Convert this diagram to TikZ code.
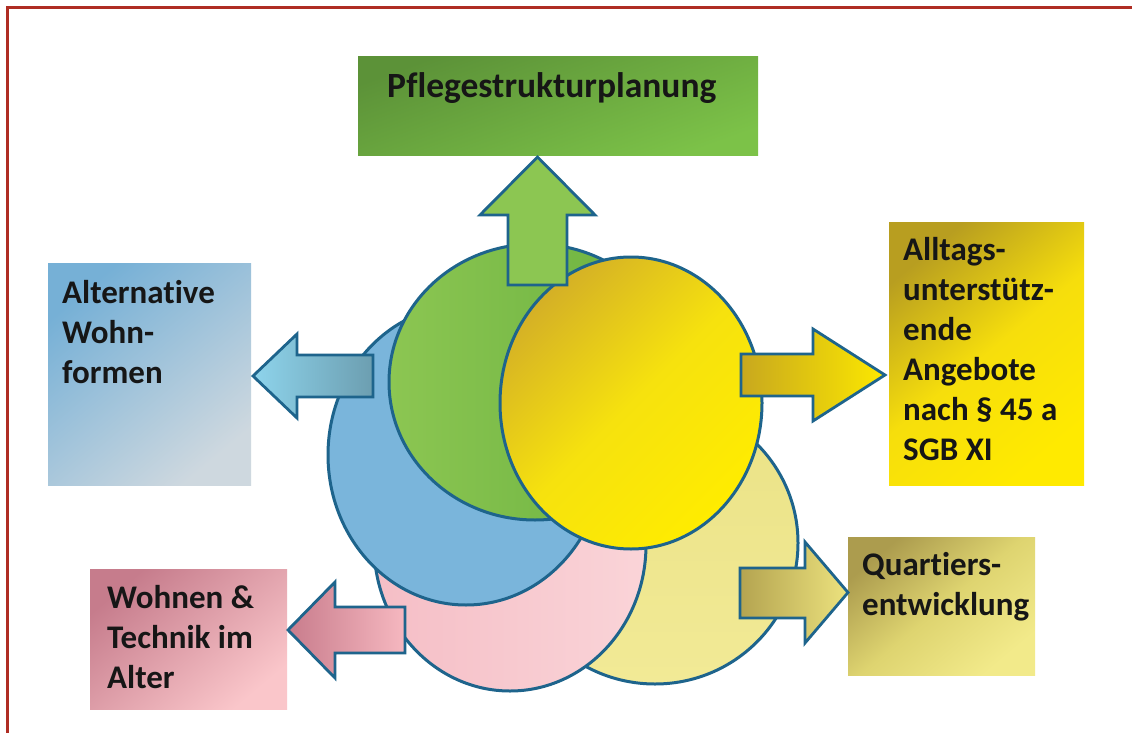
\documentclass[tikz,border=0pt]{standalone}
\usepackage{fontspec}
\setmainfont{Carlito}[Ligatures={NoCommon}]
\usetikzlibrary{shapes.geometric}
\definecolor{edgec}{RGB}{30,100,140}
\definecolor{framec}{RGB}{175,45,35}
\definecolor{txtc}{RGB}{22,22,22}
\begin{document}
\begin{tikzpicture}[x=1pt,y=-1pt,
  outl/.style={draw=edgec, line width=2.8pt, line join=miter},
  boxsty/.style={draw=none, inner sep=0pt, outer sep=0pt, anchor=north west},
  circsty/.style={ellipse, draw=edgec, line width=3pt, inner sep=0pt},
  lbl/.style={inner sep=0pt, anchor=base west, text=txtc,
    font=\fontsize{33}{40}\selectfont\bfseries}]
\useasboundingbox (0,0) rectangle (1132,733);
\fill[white] (0,0) rectangle (1132,733);
% frame
\draw[framec, line width=3pt] (7,733) -- (7,8) -- (1132,8);

% boxes
\node[boxsty, minimum width=400pt, minimum height=98pt,
  top color={rgb,255:red,92;green,146;blue,56}, bottom color={rgb,255:red,124;green,194;blue,72},
  shading angle=20] (gbox) at (358,57) {};
\node[boxsty, minimum width=203pt, minimum height=222pt,
  top color={rgb,255:red,118;green,176;blue,214}, bottom color={rgb,255:red,206;green,216;blue,223},
  shading angle=40] (bbox) at (48,263) {};
\node[boxsty, minimum width=195pt, minimum height=263pt,
  top color={rgb,255:red,184;green,158;blue,32}, bottom color={rgb,255:red,255;green,234;blue,0},
  middle color={rgb,255:red,246;green,222;blue,12},
  shading angle=40] (ybox) at (889,222) {};
\node[boxsty, minimum width=197pt, minimum height=140pt,
  top color={rgb,255:red,198;green,124;blue,140}, bottom color={rgb,255:red,250;green,198;blue,202},
  shading angle=40] (pbox) at (90,569) {};
\node[boxsty, minimum width=187pt, minimum height=138pt,
  top color={rgb,255:red,172;green,156;blue,78}, bottom color={rgb,255:red,242;green,234;blue,138},
  middle color={rgb,255:red,222;green,212;blue,112},
  shading angle=40] (obox) at (848,537) {};

% labels
\node[lbl, font=\fontsize{35.5}{42}\selectfont\bfseries] (gtxt) at (387,98) {Pflegestrukturplanung};
\node[lbl] (btxt) at (62,303) {\parbox[t]{190pt}{Alternative\\Wohn-\\formen}};
\node[lbl] (ytxt) at (903,260) {\parbox[t]{180pt}{Alltags-\\unterstütz-\\ende\\Angebote\\nach § 45 a\\SGB XI}};
\node[lbl] (ptxt) at (107,608) {\parbox[t]{180pt}{Wohnen \&\\Technik im\\Alter}};
\node[lbl] (otxt) at (862,575) {\parbox[t]{180pt}{Quartiers-\\entwicklung}};

% circles (back to front)
\node[circsty, minimum width=286pt, minimum height=282pt,
  top color={rgb,255:red,234;green,226;blue,134}, bottom color={rgb,255:red,242;green,234;blue,150}] (lyc) at (655,543) {};
\node[circsty, minimum width=272pt, minimum height=292pt,
  left color={rgb,255:red,245;green,190;blue,198}, right color={rgb,255:red,250;green,212;blue,216}] (pc) at (510,545) {};
\node[circsty, minimum width=276pt, minimum height=300pt,
  fill={rgb,255:red,122;green,181;blue,219}] (bc) at (466,455) {};
\node[circsty, minimum width=292pt, minimum height=276pt,
  left color={rgb,255:red,140;green,198;blue,82}, right color={rgb,255:red,104;green,176;blue,62}] (gc) at (535,382) {};
\node[circsty, minimum width=262pt, minimum height=292pt,
  top color={rgb,255:red,212;green,176;blue,38}, bottom color={rgb,255:red,255;green,236;blue,0},
  middle color={rgb,255:red,246;green,226;blue,14}, shading angle=45] (yc) at (631,403) {};

% block arrows
\draw[outl, fill={rgb,255:red,140;green,198;blue,82}]
  (508,285) -- (508,215) -- (480,215) -- (537.5,157) -- (595,215) -- (567,215) -- (567,285) -- cycle;
\draw[outl, left color={rgb,255:red,142;green,212;blue,236}, right color={rgb,255:red,108;green,158;blue,176}]
  (373,355) -- (297,355) -- (297,334) -- (253,376) -- (297,418) -- (297,397) -- (373,397) -- cycle;
\draw[outl, left color={rgb,255:red,200;green,168;blue,30}, right color={rgb,255:red,252;green,232;blue,0}]
  (741,354) -- (813,354) -- (813,329) -- (885,375) -- (813,421) -- (813,396) -- (741,396) -- cycle;
\draw[outl, left color={rgb,255:red,200;green,124;blue,140}, right color={rgb,255:red,246;green,184;blue,192}]
  (405,607) -- (335,607) -- (335,582) -- (288,630) -- (335,678) -- (335,653) -- (405,653) -- cycle;
\draw[outl, left color={rgb,255:red,180;green,164;blue,80}, right color={rgb,255:red,236;green,226;blue,126}]
  (740,568) -- (805,568) -- (805,542) -- (848,592.5) -- (805,643) -- (805,618) -- (740,618) -- cycle;
\end{tikzpicture}
\end{document}
